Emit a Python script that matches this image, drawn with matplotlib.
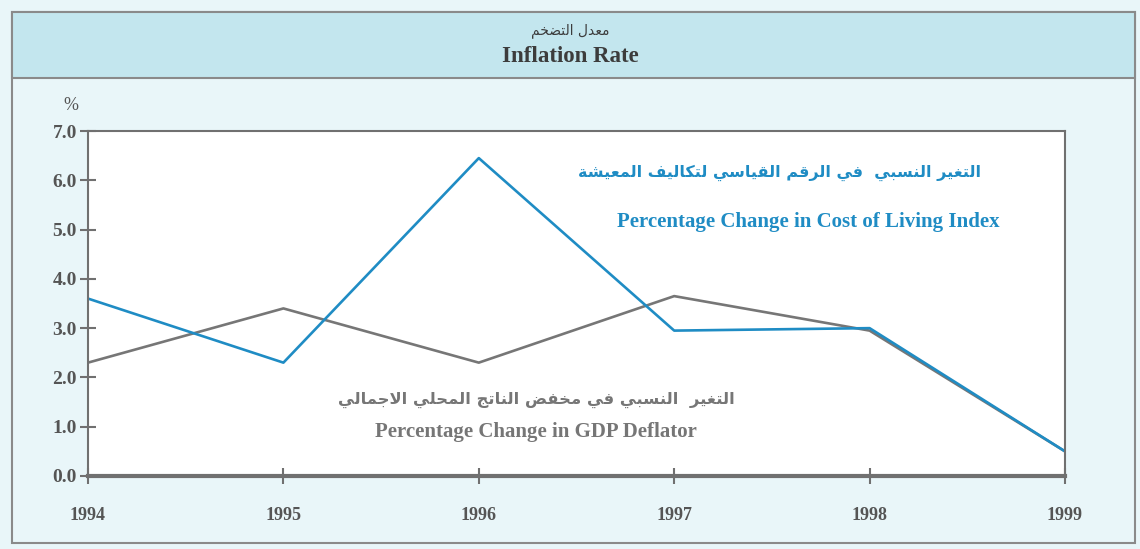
import matplotlib
matplotlib.use("Agg")
import matplotlib.pyplot as plt
from matplotlib.patches import Rectangle

# البيانات
years = [1994, 1995, 1996, 1997, 1998, 1999]
cost_of_living = [3.6, 2.3, 6.45, 2.95, 3.0, 0.5]
gdp_deflator = [2.3, 3.4, 2.3, 3.65, 2.95, 0.5]
y_ticks = [0.0, 1.0, 2.0, 3.0, 4.0, 5.0, 6.0, 7.0]

title_ar = "معدل التضخم"
title_en = "Inflation Rate"
col_ar = "التغير النسبي  في الرقم القياسي لتكاليف المعيشة"
col_en = "Percentage Change in Cost of Living Index"
gdp_ar = "التغير  النسبي في مخفض الناتج المحلي الاجمالي"
gdp_en = "Percentage Change in GDP Deflator"

# تشكيل الحروف العربية (matplotlib لا يقوم بذلك)
FORMS = {
    'ا': (0xFE8D, 0xFE8E, None, None), 'ب': (0xFE8F, 0xFE90, 0xFE91, 0xFE92),
    'ة': (0xFE93, 0xFE94, None, None), 'ت': (0xFE95, 0xFE96, 0xFE97, 0xFE98),
    'ج': (0xFE9D, 0xFE9E, 0xFE9F, 0xFEA0), 'ح': (0xFEA1, 0xFEA2, 0xFEA3, 0xFEA4),
    'خ': (0xFEA5, 0xFEA6, 0xFEA7, 0xFEA8), 'د': (0xFEA9, 0xFEAA, None, None),
    'ر': (0xFEAD, 0xFEAE, None, None), 'س': (0xFEB1, 0xFEB2, 0xFEB3, 0xFEB4),
    'ش': (0xFEB5, 0xFEB6, 0xFEB7, 0xFEB8), 'ض': (0xFEBD, 0xFEBE, 0xFEBF, 0xFEC0),
    'ع': (0xFEC9, 0xFECA, 0xFECB, 0xFECC), 'غ': (0xFECD, 0xFECE, 0xFECF, 0xFED0),
    'ف': (0xFED1, 0xFED2, 0xFED3, 0xFED4), 'ق': (0xFED5, 0xFED6, 0xFED7, 0xFED8),
    'ك': (0xFED9, 0xFEDA, 0xFEDB, 0xFEDC), 'ل': (0xFEDD, 0xFEDE, 0xFEDF, 0xFEE0),
    'م': (0xFEE1, 0xFEE2, 0xFEE3, 0xFEE4), 'ن': (0xFEE5, 0xFEE6, 0xFEE7, 0xFEE8),
    'ي': (0xFEF1, 0xFEF2, 0xFEF3, 0xFEF4),
}


def dual(c):
    return c in FORMS and FORMS[c][2] is not None


def shape(text):
    out = []
    i = 0
    n = len(text)
    while i < n:
        c = text[i]
        if c not in FORMS:
            out.append(c)
            i += 1
            continue
        prev = text[i - 1] if i > 0 else ''
        join_prev = dual(prev)
        if c == 'ل' and i + 1 < n and text[i + 1] == 'ا':
            out.append(chr(0xFEFC if join_prev else 0xFEFB))
            i += 2
            continue
        nxt = text[i + 1] if i + 1 < n else ''
        join_next = dual(c) and nxt in FORMS
        iso, fin, ini, med = FORMS[c]
        if join_prev and join_next:
            f = med
        elif join_prev:
            f = fin
        elif join_next:
            f = ini
        else:
            f = iso
        out.append(chr(f))
        i += 1
    return ''.join(out)[::-1]


blue = '#1f8cc4'
grey = '#767676'
txt = '#555555'
serif = 'Liberation Serif'
arab = ['DejaVu Sans']

fig = plt.figure(figsize=(11.4, 5.49), dpi=100)
fig.patch.set_facecolor('#e9f6f9')

# إطار وشريط العنوان
fig.patches.append(Rectangle((12 / 1140, 6 / 549), 1123 / 1140, 531 / 549, transform=fig.transFigure,
                             facecolor='none', edgecolor='#8a8a8a', lw=1.5))
fig.patches.append(Rectangle((12 / 1140, 471 / 549), 1123 / 1140, 66 / 549, transform=fig.transFigure,
                             facecolor='#c3e6ee', edgecolor='#8a8a8a', lw=1.5))

fig.text(0.5, 1 - 31 / 549, shape(title_ar), ha='center', va='center', fontsize=10,
         family=arab, color='#3c3c3c')
fig.text(0.5, 1 - 57 / 549, title_en, ha='center', va='center', fontsize=16.5,
         family=serif, weight='bold', color='#3c3c3c')

ax = fig.add_axes([88 / 1140, 73 / 549, 977 / 1140, 345 / 549])
ax.set_facecolor('white')
ax.plot(years, gdp_deflator, color=grey, lw=1.9)
ax.plot(years, cost_of_living, color=blue, lw=1.9)

ax.set_xlim(years[0], years[-1])
ax.set_ylim(0, 7)
ax.set_yticks(y_ticks)
ax.set_yticklabels([f'{v:.1f}' for v in y_ticks])
ax.set_xticks(years)
ax.set_xticklabels([str(y) for y in years])
ax.tick_params(axis='both', direction='inout', length=12, width=1.5, color='#707070')
ax.tick_params(axis='y', pad=2, labelsize=14)
ax.tick_params(axis='x', pad=16, labelsize=13)
for lab in ax.get_xticklabels() + ax.get_yticklabels():
    lab.set_family(serif)
    lab.set_weight('bold')
    lab.set_color(txt)
for s in ax.spines.values():
    s.set_color('#707070')
    s.set_linewidth(1.5)
ax.spines['bottom'].set_linewidth(3)

ax.text(-0.018, 1.075, '%', transform=ax.transAxes, ha='center', va='center',
        fontsize=13, family=serif, color=txt)

ax.text(0.708, 0.88, shape(col_ar), transform=ax.transAxes, ha='center', va='center',
        fontsize=11.5, family=arab, weight='bold', color=blue)
ax.text(0.737, 0.735, col_en, transform=ax.transAxes, ha='center', va='center',
        fontsize=15, family=serif, weight='bold', color=blue)
ax.text(0.459, 0.22, shape(gdp_ar), transform=ax.transAxes, ha='center', va='center',
        fontsize=11.8, family=arab, weight='bold', color=grey)
ax.text(0.458, 0.128, gdp_en, transform=ax.transAxes, ha='center', va='center',
        fontsize=15, family=serif, weight='bold', color=grey)

fig.savefig('out.png', dpi=100, facecolor=fig.get_facecolor())
